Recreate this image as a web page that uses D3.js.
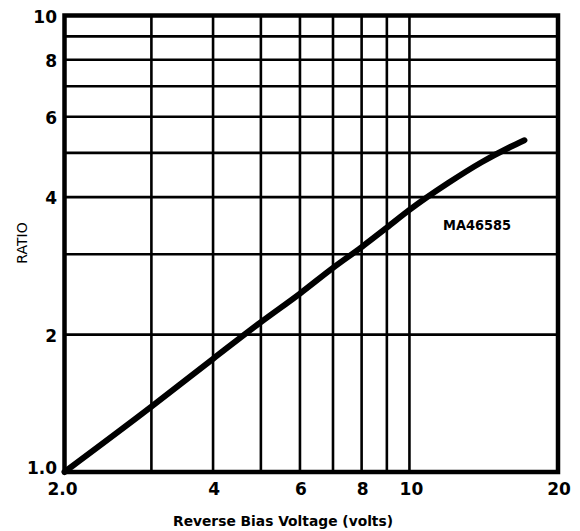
<!DOCTYPE html>
<html>
<head>
<meta charset="utf-8">
<script src="https://cdn.jsdelivr.net/npm/d3@7"></script>
<style>
  html, body { margin: 0; padding: 0; background: #fff; }
  svg { display: block; }
  text { font-family: "DejaVu Sans", "Liberation Sans", sans-serif; fill: #000; }
</style>
</head>
<body>
<svg id="chart" width="580" height="531"></svg>
<script>
// Curve (log-log)
const voltage = [2, 3, 4, 5, 6, 7, 8, 9, 10, 12, 14, 16, 17.1];
const ratio = [1.0, 1.39, 1.77, 2.13, 2.46, 2.80, 3.11, 3.43, 3.75, 4.30, 4.77, 5.15, 5.33];

const xTicks = [2, 4, 6, 8, 10, 20];
const xTickLabels = ["2.0", "4", "6", "8", "10", "20"];
const yTicks = [1, 2, 4, 6, 8, 10];
const yTickLabels = ["1.0", "2", "4", "6", "8", "10"];
const xGrid = [3, 4, 5, 6, 7, 8, 9, 10];
const yGrid = [2, 3, 4, 5, 6, 7, 8, 9];

const seriesName = "MA46585";
const xTitle = "Reverse Bias Voltage (volts)";
const yTitle = "RATIO";

const svg = d3.select("#chart");
const plotLeft = 64.5, plotRight = 558, plotTop = 15.5, plotBottom = 472;

const x = d3.scaleLog().domain([2, 20]).range([plotLeft, plotRight]);
const y = d3.scaleLog().domain([1, 10]).range([plotBottom, plotTop]);

// grid
const grid = svg.append("g").attr("stroke", "#000").attr("stroke-width", 2.6);
grid.selectAll("line.v").data(xGrid).join("line")
  .attr("class", "v")
  .attr("x1", d => x(d)).attr("x2", d => x(d))
  .attr("y1", plotTop).attr("y2", plotBottom);
grid.selectAll("line.h").data(yGrid).join("line")
  .attr("class", "h")
  .attr("x1", plotLeft).attr("x2", plotRight)
  .attr("y1", d => y(d)).attr("y2", d => y(d));

// frame
svg.append("rect")
  .attr("x", plotLeft).attr("y", plotTop)
  .attr("width", plotRight - plotLeft).attr("height", plotBottom - plotTop)
  .attr("fill", "none").attr("stroke", "#000").attr("stroke-width", 4.5);

// curve
const line = d3.line()
  .x((d, i) => x(voltage[i]))
  .y(d => y(d))
  .curve(d3.curveMonotoneX);

svg.append("path")
  .datum(ratio)
  .attr("d", line)
  .attr("fill", "none")
  .attr("stroke", "#000")
  .attr("stroke-width", 6)
  .attr("stroke-linecap", "round");

// y tick labels
svg.append("g").selectAll("text").data(yTicks).join("text")
  .attr("x", 57)
  .attr("y", d => d === 1 ? y(d) - 4 : y(d) + 1)
  .attr("text-anchor", "end")
  .attr("dominant-baseline", "central")
  .attr("font-size", 17)
  .attr("font-weight", "bold")
  .text((d, i) => yTickLabels[i]);

// x tick labels
svg.append("g").selectAll("text").data(xTicks).join("text")
  .attr("x", d => d === 2 ? x(d) - 2 : d === 10 ? x(d) + 2 : x(d) + 1)
  .attr("y", 489)
  .attr("text-anchor", "middle")
  .attr("dominant-baseline", "central")
  .attr("font-size", 17)
  .attr("font-weight", "bold")
  .text((d, i) => xTickLabels[i]);

// series label
svg.append("text")
  .attr("x", 443).attr("y", 230)
  .attr("font-size", 13.5)
  .attr("font-weight", "bold")
  .attr("textLength", 68)
  .attr("lengthAdjust", "spacingAndGlyphs")
  .text(seriesName);

// axis titles
svg.append("text")
  .attr("x", 173).attr("y", 526)
  .attr("font-size", 14)
  .attr("font-weight", "bold")
  .attr("textLength", 220)
  .attr("lengthAdjust", "spacingAndGlyphs")
  .text(xTitle);

svg.append("text")
  .attr("transform", "translate(27,243) rotate(-90)")
  .attr("text-anchor", "middle")
  .attr("font-size", 14)
  .attr("font-family", "Liberation Sans, Arial, sans-serif")
  .text(yTitle);
</script>
</body>
</html>
